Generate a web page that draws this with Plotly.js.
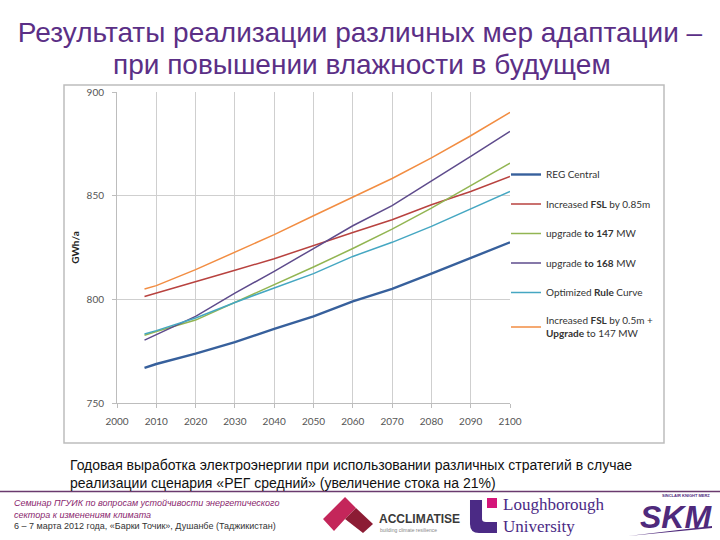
<!DOCTYPE html>
<html>
<head>
<meta charset="utf-8">
<script src="https://cdn.plot.ly/plotly-3.0.1.min.js"></script>
<style>html,body{margin:0;padding:0;background:#fff;}#chart{width:720px;height:540px;}</style>
</head>
<body>
<div id="chart"></div>
<script>
// ---- data ----
const years = [2007, 2010, 2020, 2030, 2040, 2050, 2060, 2070, 2080, 2090, 2100];
const regCentral   = [766.9, 768.8, 773.8, 779.4, 785.7, 791.8, 799.0, 805.0, 812.4, 819.9, 827.5];
const fsl085       = [801.4, 803.0, 808.4, 814.0, 819.6, 826.0, 832.2, 838.4, 845.6, 852.0, 859.3];
const upg147       = [782.7, 784.5, 790.0, 798.5, 807.0, 815.6, 824.5, 833.9, 844.0, 854.8, 865.7];
const upg168       = [780.3, 782.9, 791.8, 803.0, 813.5, 824.5, 835.5, 845.2, 856.9, 869.0, 881.0];
const ruleCurve    = [783.3, 784.9, 791.0, 798.5, 805.5, 812.4, 820.7, 827.5, 835.2, 843.5, 852.0];
const fsl05upg147  = [805.0, 806.6, 814.3, 822.8, 831.2, 840.3, 849.4, 858.3, 868.2, 878.9, 890.2];
const seriesNames = [
  'REG Central',
  'Increased <b>FSL</b> by 0.85m',
  'upgrade <b>to 147</b> MW',
  'upgrade <b>to 168</b> MW',
  'Optimized <b>Rule</b> Curve',
  'Increased <b>FSL</b> by 0.5m +<br><b>Upgrade</b> to 147 MW'
];
const xTicks = [2000, 2010, 2020, 2030, 2040, 2050, 2060, 2070, 2080, 2090, 2100];
const yTicks = [750, 800, 850, 900];

const seriesValues = [regCentral, fsl085, upg147, upg168, ruleCurve, fsl05upg147];
const colors = ['#37609c', '#b8423f', '#92b552', '#5e4b8c', '#45a7c2', '#f28d42'];
const widths = [2.4, 1.5, 1.5, 1.5, 1.5, 1.5];

const traces = seriesValues.map((v, i) => ({
  x: years, y: v, type: 'scatter', mode: 'lines', name: seriesNames[i],
  legendgroup: 'g' + i,
  line: {color: colors[i], width: widths[i]}
}));

// pixel -> paper helpers (plot area: x 117..510, y 92..403)
const L = 117, R = 210, T = 92, B = 137, W = 720 - L - R, H = 540 - T - B;
const PX = p => (p - L) / W;
const PY = p => (540 - B - p) / H;

const purple = '#5b2f86';
const annotations = [
  {xref:'paper', yref:'paper', x: PX(362), y: PY(64), xanchor:'center', yanchor:'middle', showarrow:false,
   text:'при повышении влажности в будущем',
   font:{family:'Liberation Sans, Arial', size:28, color:purple}},
  {xref:'paper', yref:'paper', x: PX(68), y: PY(455), xanchor:'left', yanchor:'top', align:'left', showarrow:false,
   text:'Годовая выработка электроэнергии при использовании различных стратегий в случае<br>реализации сценария «РЕГ средний» (увеличение стока на 21%)',
   font:{family:'Liberation Sans, Arial', size:14, color:'#111'}},
  {xref:'paper', yref:'paper', x: PX(12), y: PY(496), xanchor:'left', yanchor:'top', align:'left', showarrow:false,
   text:'<i>Семинар ПГУИК по вопросам устойчивости энергетического<br>сектора к изменениям климата</i>',
   font:{family:'Liberation Sans, Arial', size:9, color:'#8a1f6e'}},
  {xref:'paper', yref:'paper', x: PX(12), y: PY(519), xanchor:'left', yanchor:'top', align:'left', showarrow:false,
   text:'6 – 7 марта 2012 года, «Барки Точик», Душанбе (Таджикистан)',
   font:{family:'Liberation Sans, Arial', size:9, color:'#333'}},
  {xref:'paper', yref:'paper', x: PX(377), y: PY(519), xanchor:'left', yanchor:'middle', showarrow:false,
   text:'<b>ACCLIMATISE</b>', font:{family:'Liberation Sans, Arial', size:12, color:'#3a3a3a'}},
  {xref:'paper', yref:'paper', x: PX(378), y: PY(530), xanchor:'left', yanchor:'middle', showarrow:false,
   text:'building climate resilience', font:{family:'Liberation Sans, Arial', size:5, color:'#888'}},
  {xref:'paper', yref:'paper', x: PX(501), y: PY(515), xanchor:'left', yanchor:'middle', align:'left', showarrow:false,
   text:'Loughborough<br>University', font:{family:'Liberation Serif, serif', size:17, color:'#4b2a85'}},
  {xref:'paper', yref:'paper', x: PX(676), y: PY(517), xanchor:'center', yanchor:'middle', showarrow:false,
   text:'<b><i>SKM</i></b>', font:{family:'Liberation Sans, Arial', size:32, color:'#4f2a7c'}},
  {xref:'paper', yref:'paper', x: PX(686), y: PY(496), xanchor:'center', yanchor:'middle', showarrow:false,
   text:'<b>SINCLAIR KNIGHT MERZ</b>', font:{family:'Liberation Sans, Arial', size:4, color:'#4f2a7c'}}
];

const P = (x, y) => PX(x).toFixed(4) + ',' + PY(y).toFixed(4);
const shapes = [
  // chart frame
  {type:'rect', xref:'paper', yref:'paper', x0: PX(64), x1: PX(664), y0: PY(443), y1: PY(85),
   line:{color:'#bdbdbd', width:1.5}, fillcolor:'rgba(0,0,0,0)', layer:'below'},
  // footer divider
  {type:'line', xref:'paper', yref:'paper', x0: PX(0), x1: PX(720), y0: PY(491.5), y1: PY(491.5),
   line:{color:'#6a3a6e', width:1.5}},
  // Acclimatise mark
  {type:'path', xref:'paper', yref:'paper', fillcolor:'#c4265a', line:{width:0},
   path:'M' + P(323,519) + ' L' + P(345,497) + ' L' + P(356,508) + ' L' + P(345,519) + ' L' + P(334,531) + ' Z'},
  {type:'path', xref:'paper', yref:'paper', fillcolor:'#8c1c34', line:{width:0},
   path:'M' + P(345,519) + ' L' + P(356,508) + ' L' + P(373,524) + ' L' + P(363,533) + ' Z'},
  // Loughborough mark
  {type:'path', xref:'paper', yref:'paper', fillcolor:'#4b2a85', line:{width:0},
   path:'M' + P(470,500) + ' L' + P(482,500) + ' L' + P(482,519) + ' Q' + P(482,522) + ' ' + P(486,522) +
        ' L' + P(497,522) + ' L' + P(497,533) + ' L' + P(479,533) + ' Q' + P(470,533) + ' ' + P(470,524) + ' Z'},
  {type:'rect', xref:'paper', yref:'paper', x0: PX(487), x1: PX(497), y0: PY(508), y1: PY(498),
   fillcolor:'#d4157a', line:{width:0}},
  // SKM swoosh
  {type:'path', xref:'paper', yref:'paper', fillcolor:'#4f2a7c', line:{width:0},
   path:'M' + P(628,536) + ' L' + P(712,526) + ' L' + P(712,528) + ' Z'}
];

const layout = {
  width: 720, height: 540,
  margin: {l: L, r: R, t: T, b: B, pad: 0},
  paper_bgcolor: '#fff', plot_bgcolor: '#fff',
  font: {family: 'Lato, Liberation Sans, Arial', color: '#595959'},
  title: {
    text: 'Результаты реализации различных мер адаптации –',
    x: 0.5, xref: 'container', xanchor: 'center',
    y: 1 - 32/540, yref: 'container', yanchor: 'middle',
    font: {family: 'Liberation Sans, Arial', size: 28, color: purple}
  },
  xaxis: {
    range: [2000, 2100], tickmode: 'array', tickvals: xTicks, ticktext: xTicks.map(String),
    showgrid: true, gridcolor: '#cfcfcf', gridwidth: 1,
    showline: true, linecolor: '#bdbdbd', linewidth: 1,
    ticks: 'outside', ticklen: 4, tickcolor: '#bdbdbd',
    tickfont: {family: 'Lato, Liberation Sans', size: 10, color: '#555'},
    ticklabelstandoff: 5,
    zeroline: false, fixedrange: true
  },
  yaxis: {
    range: [750, 900], tickmode: 'array', tickvals: yTicks, ticktext: yTicks.map(String),
    showgrid: true, gridcolor: '#cfcfcf', gridwidth: 1,
    showline: true, linecolor: '#bdbdbd', linewidth: 1,
    ticks: 'outside', ticklen: 4, tickcolor: '#bdbdbd',
    tickfont: {family: 'Lato, Liberation Sans', size: 10, color: '#555'},
    ticklabelstandoff: 6,
    title: {text: '<b>GWh/a</b>', standoff: 5, font: {family: 'Lato, Liberation Sans', size: 10, color: '#222'}},
    zeroline: false, fixedrange: true
  },
  showlegend: true,
  legend: {
    x: PX(506), y: PY(160), xanchor: 'left', yanchor: 'top',
    bgcolor: 'rgba(0,0,0,0)', borderwidth: 0,
    font: {family: 'Lato, Liberation Sans', size: 10, color: '#333'},
    tracegroupgap: 10.5, traceorder: 'grouped', itemwidth: 30
  },
  annotations: annotations,
  shapes: shapes
};

Plotly.newPlot('chart', traces, layout, {staticPlot: true, displayModeBar: false});
</script>
</body>
</html>
